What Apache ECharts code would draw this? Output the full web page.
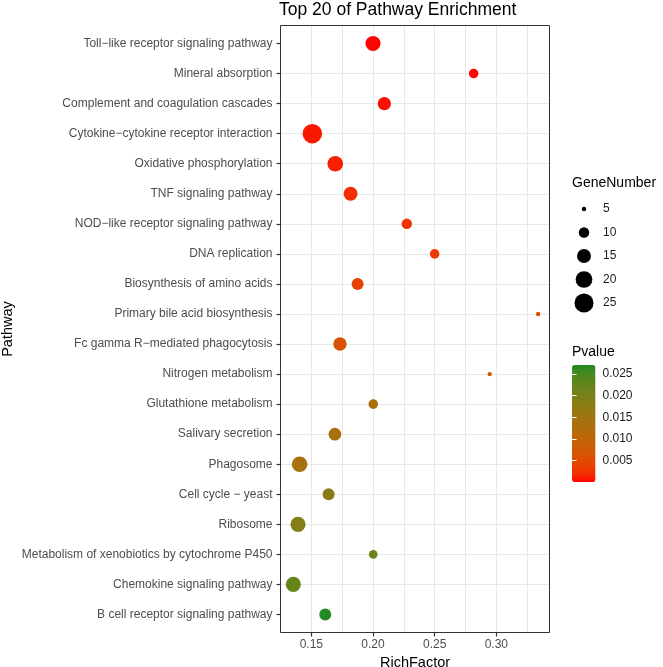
<!DOCTYPE html>
<html><head><meta charset="utf-8">
<script src="https://cdn.jsdelivr.net/npm/echarts@6/dist/echarts.min.js"></script>
<style>html,body{margin:0;padding:0;background:#fff}#c{width:663px;height:667px}</style>
</head><body><div id="c"></div>
<script>
const pathways = [
  "Toll\u2212like receptor signaling pathway",
  "Mineral absorption",
  "Complement and coagulation cascades",
  "Cytokine\u2212cytokine receptor interaction",
  "Oxidative phosphorylation",
  "TNF signaling pathway",
  "NOD\u2212like receptor signaling pathway",
  "DNA replication",
  "Biosynthesis of amino acids",
  "Primary bile acid biosynthesis",
  "Fc gamma R\u2212mediated phagocytosis",
  "Nitrogen metabolism",
  "Glutathione metabolism",
  "Salivary secretion",
  "Phagosome",
  "Cell cycle \u2212 yeast",
  "Ribosome",
  "Metabolism of xenobiotics by cytochrome P450",
  "Chemokine signaling pathway",
  "B cell receptor signaling pathway"
];
const richFactor = [0.2000, 0.2816, 0.2092, 0.1508, 0.1694, 0.1818, 0.2274, 0.2500, 0.1875, 0.3339,
                    0.1732, 0.2946, 0.2002, 0.1691, 0.1405, 0.1640, 0.1392, 0.2002, 0.1354, 0.1613];
const geneNumber = [17, 9, 14, 26, 18, 15, 10, 9, 12, 5, 14, 5, 9, 13, 18, 12, 17, 8, 17, 12];
const pValue = [0.0001, 0.0003, 0.0006, 0.0009, 0.0013, 0.0018, 0.0022, 0.0030, 0.0040, 0.0048,
                0.0065, 0.0075, 0.0135, 0.0135, 0.0140, 0.0180, 0.0185, 0.0215, 0.0220, 0.0271];
const xTickValues = [0.15, 0.20, 0.25, 0.30];
const sizeLegendValues = [5, 10, 15, 20, 25];
const pTickValues = [0.005, 0.010, 0.015, 0.020, 0.025];

// size scale (area-like)
function sizeOf(n){ return 0.8 + 4.0 * Math.sqrt(Math.max(0, n - 4.2)); }

// Lab interpolation red -> forestgreen
function s2l(c){c/=255;return c<=0.04045?c/12.92:Math.pow((c+0.055)/1.055,2.4);}
function l2s(c){const v=c<=0.0031308?12.92*c:1.055*Math.pow(c,1/2.4)-0.055;return Math.round(Math.max(0,Math.min(1,v))*255);}
function hexToLab(h){
  const r=s2l(parseInt(h.slice(1,3),16)),g=s2l(parseInt(h.slice(3,5),16)),b=s2l(parseInt(h.slice(5,7),16));
  const X=(0.4124564*r+0.3575761*g+0.1804375*b)/0.95047,Y=0.2126729*r+0.7151522*g+0.0721750*b,Z=(0.0193339*r+0.1191920*g+0.9503041*b)/1.08883;
  const f=t=>t>0.008856?Math.cbrt(t):7.787*t+16/116;
  return [116*f(Y)-16,500*(f(X)-f(Y)),200*(f(Y)-f(Z))];
}
function labToHex(L,a,b){
  const fy=(L+16)/116,fx=fy+a/500,fz=fy-b/200;
  const inv=t=>t*t*t>0.008856?t*t*t:(t-16/116)/7.787;
  const X=inv(fx)*0.95047,Y=inv(fy),Z=inv(fz)*1.08883;
  const r=3.2404542*X-1.5371385*Y-0.4985314*Z,g=-0.9692660*X+1.8760108*Y+0.0415560*Z,bb=0.0556434*X-0.2040259*Y+1.0572252*Z;
  return '#'+[r,g,bb].map(v=>l2s(v).toString(16).padStart(2,'0')).join('');
}
const lowLab = hexToLab('#ff0000'), highLab = hexToLab('#228b22');
const colorStops = [];
for (let k = 0; k <= 16; k++) {
  const t = k / 16;
  colorStops.push(labToHex(lowLab[0]+(highLab[0]-lowLab[0])*t, lowLab[1]+(highLab[1]-lowLab[1])*t, lowLab[2]+(highLab[2]-lowLab[2])*t));
}

const pMin = 0, pMax = Math.max(...pValue);
const idx = pathways.map((_, i) => i);
const FONT = '"Liberation Sans", Arial, sans-serif';
const gridColor = '#e4eae4';

const chart = echarts.init(document.getElementById('c'), null, {renderer: 'canvas'});
chart.setOption({
  animation: false,
  backgroundColor: '#ffffff',
  textStyle: {fontFamily: FONT},
  title: [
    {text: 'Top 20 of Pathway Enrichment', left: 279, top: 1, padding: 0,
     textStyle: {fontSize: 17.5, fontWeight: 'normal', color: '#000', fontFamily: FONT}},
    {text: 'GeneNumber', left: 572, top: 176, padding: 0,
     textStyle: {fontSize: 14, fontWeight: 'normal', color: '#000', fontFamily: FONT}},
    {text: 'Pvalue', left: 572, top: 345, padding: 0,
     textStyle: {fontSize: 14, fontWeight: 'normal', color: '#000', fontFamily: FONT}}
  ],
  grid: [
    {left: 280.5, top: 25.5, right: 113.5, bottom: 34.5, show: true, borderColor: '#333333', borderWidth: 1,
     backgroundColor: 'transparent', containLabel: false, outerBoundsMode: 'none', z: 3},
    {left: 572, top: 197.25, width: 24, height: 117.5, show: false, containLabel: false, outerBoundsMode: 'none'},
    {left: 572, top: 365, width: 23.5, height: 117, show: false, containLabel: false, outerBoundsMode: 'none'}
  ],
  xAxis: [
    {gridIndex: 0, type: 'value', min: 0.125, max: 0.3431, interval: 0.025,
     axisLine: {show: false}, axisTick: {show: false}, axisLabel: {show: false},
     splitLine: {show: true, showMinLine: false, showMaxLine: false, lineStyle: {color: gridColor, width: 1}}},
    {gridIndex: 0, type: 'value', min: 0.125, max: 0.3431, position: 'bottom',
     axisLine: {show: false},
     axisTick: {show: true, customValues: xTickValues, length: 4, lineStyle: {color: '#333', width: 1.2}},
     axisLabel: {show: true, customValues: xTickValues, formatter: v => v.toFixed(2), fontSize: 12, color: '#4d4d4d', margin: 6},
     splitLine: {show: false},
     name: 'RichFactor', nameLocation: 'middle', nameGap: 21,
     nameTextStyle: {fontSize: 14.5, color: '#000'}},
    {gridIndex: 1, type: 'value', min: -1, max: 1, show: false},
    {gridIndex: 2, type: 'value', min: 0, max: 1, show: false}
  ],
  yAxis: [
    {gridIndex: 0, type: 'value', min: -0.6, max: 19.6, inverse: true,
     axisLine: {show: false},
     axisTick: {show: true, customValues: idx, length: 4, lineStyle: {color: '#333', width: 1.2}},
     axisLabel: {show: true, customValues: idx, formatter: v => pathways[Math.round(v)] || '', fontSize: 12, color: '#4d4d4d', margin: 8},
     splitLine: {show: true, showMinLine: false, showMaxLine: false, lineStyle: {color: gridColor, width: 1}},
     name: 'Pathway', nameLocation: 'middle', nameRotate: 90, nameGap: 265,
     nameTextStyle: {fontSize: 14.5, color: '#000'}},
    {gridIndex: 1, type: 'category', data: sizeLegendValues.map(String), inverse: true, position: 'right',
     axisLine: {show: false}, axisTick: {show: false},
     axisLabel: {show: true, fontSize: 12, color: '#1a1a1a', margin: 7},
     splitLine: {show: false}},
    {gridIndex: 2, type: 'value', min: pMin, max: pMax, position: 'right', z: 10,
     axisLine: {show: false},
     axisTick: {show: true, inside: true, customValues: pTickValues, length: 4.5, lineStyle: {color: '#ffffff', width: 1}},
     axisLabel: {show: true, customValues: pTickValues, formatter: v => v.toFixed(3), fontSize: 12, color: '#1a1a1a', margin: 7},
     splitLine: {show: false}},
    {gridIndex: 2, type: 'value', min: pMin, max: pMax, position: 'left', z: 10,
     axisLine: {show: false},
     axisTick: {show: true, inside: true, customValues: pTickValues, length: 4.5, lineStyle: {color: '#ffffff', width: 1}},
     axisLabel: {show: false}, splitLine: {show: false}}
  ],
  visualMap: [{
    type: 'continuous', seriesIndex: 0, dimension: 2, min: pMin, max: pMax,
    calculable: false, show: true, orient: 'vertical', left: 572, top: 365,
    itemWidth: 23.5, itemHeight: 117, padding: 0, text: null, hoverLink: false,
    inRange: {color: colorStops}
  }],
  series: [
    {type: 'scatter', xAxisIndex: 0, yAxisIndex: 0, symbol: 'circle',
     data: idx.map(i => [richFactor[i], i, pValue[i], geneNumber[i]]),
     encode: {x: 0, y: 1},
     symbolSize: d => sizeOf(d[3]),
     itemStyle: {opacity: 1}},
    {type: 'scatter', xAxisIndex: 2, yAxisIndex: 1, symbol: 'circle',
     data: sizeLegendValues.map(v => [0, String(v), v]),
     symbolSize: d => sizeOf(d[2]),
     itemStyle: {color: '#000000', opacity: 1}}
  ]
});
</script>
</body></html>
